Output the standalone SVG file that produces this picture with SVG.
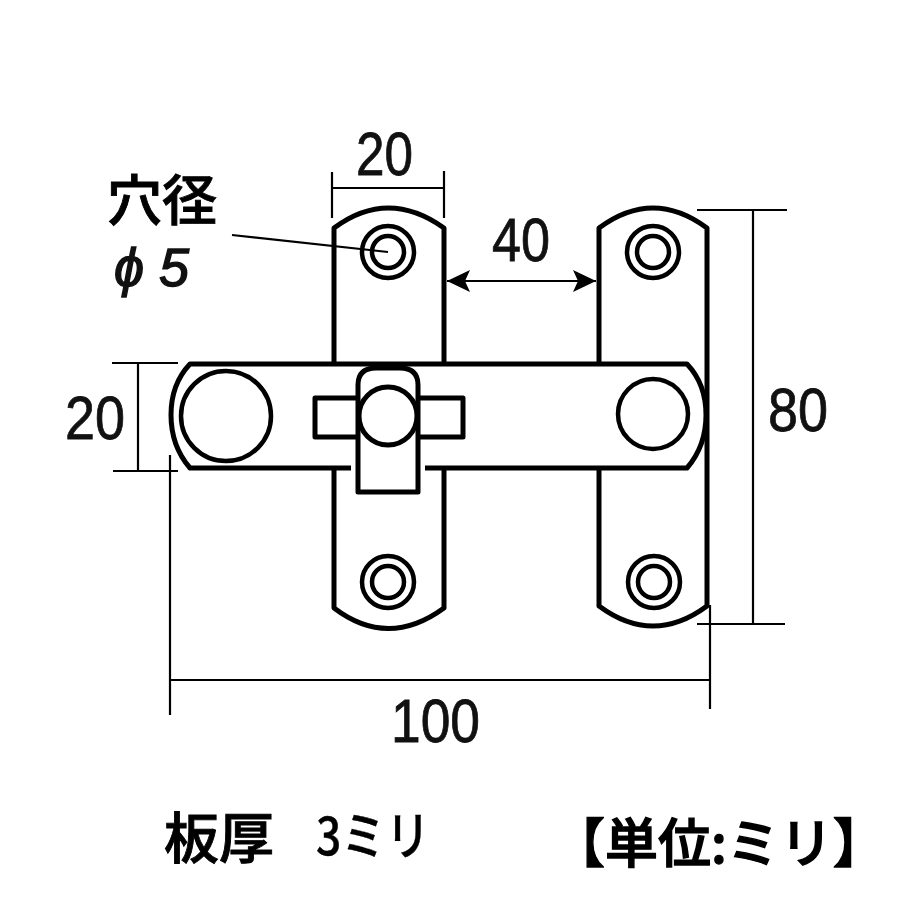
<svg xmlns="http://www.w3.org/2000/svg" width="920" height="920" viewBox="0 0 920 920">
<style>
.o{fill:#fff;stroke:#000;stroke-width:5;stroke-linejoin:round}
.h{fill:none;stroke:#000;stroke-width:4.5}
.d{fill:none;stroke:#000;stroke-width:2.2}
.n{font-family:"Liberation Sans",sans-serif;font-size:62px;fill:#111;stroke:#111;stroke-width:.8}
.j{font-family:"Noto Sans CJK JP","Liberation Sans",sans-serif;fill:#000;font-weight:500;stroke:#000;stroke-width:.9}
</style>
<defs>
<marker id="a" markerUnits="userSpaceOnUse" markerWidth="26" markerHeight="26" refX="23" refY="12" orient="auto-start-reverse"><path d="M23 12L0 1L5 12L0 23Z" fill="#000"/></marker>
</defs>
<rect width="920" height="920" fill="#fff"/>
<g id="plate-left">
<path class="o" d="M334 228Q388 188 444 228V608Q388 649 334 608Z"/>
<circle class="h" cx="388" cy="252" r="26"/><circle class="h" cx="388" cy="252" r="16"/>
<circle class="h" cx="388" cy="582" r="26"/><circle class="h" cx="388" cy="582" r="16"/>
</g>
<g id="plate-right">
<path class="o" d="M599 228Q653 188 707 228V606Q653 646 599 606Z"/>
<circle class="h" cx="653" cy="252" r="26"/><circle class="h" cx="653" cy="252" r="16"/>
<circle class="h" cx="654" cy="582" r="26"/><circle class="h" cx="654" cy="582" r="16"/>
</g>
<g id="bar">
<path class="o" d="M190 364H687Q706 384 706 415Q706 446 687 468H190Q171 446 171 415Q171 384 190 364Z"/>
<circle class="h" cx="226" cy="416" r="45"/>
<circle class="h" cx="653" cy="414" r="35"/>
</g>
<g id="slider">
<rect class="o" x="315" y="398" width="148" height="39"/>
<path fill="#fff" d="M351 465H425V472H351Z"/>
<path class="o" d="M358 492V385Q358 368 376 368H400Q418 368 418 385V492Z"/>
<circle class="o" cx="388" cy="416" r="29"/>
</g>
<g id="connectors">
<path class="d" d="M332 172V218M444 171V218M332 188H444"/>
<path class="d" d="M232 235L388 252"/>
<path class="d" d="M447 281H596" marker-start="url(#a)" marker-end="url(#a)"/>
<path class="d" d="M697 210H787M697 624H785M753 210V624"/>
<path class="d" d="M112 363H178M113 471H178M138 363V471"/>
<path class="d" d="M170 455V715M710 605V709M170 680H710"/>
</g>
<g id="labels">
<text class="n" x="356" y="175" textLength="57" lengthAdjust="spacingAndGlyphs">20</text>
<text class="n" x="492" y="261" textLength="58" lengthAdjust="spacingAndGlyphs">40</text>
<text class="n" x="768" y="431" textLength="60" lengthAdjust="spacingAndGlyphs">80</text>
<text class="n" x="65" y="439" textLength="60" lengthAdjust="spacingAndGlyphs">20</text>
<text class="n" x="391" y="742" textLength="89" lengthAdjust="spacingAndGlyphs">100</text>
<text class="j" x="107" y="220" font-size="55">穴径</text>
<text class="n" x="114" y="286" textLength="75" lengthAdjust="spacing" style="font-style:italic;font-size:54px;stroke-width:1.4">ϕ5</text>
<text class="j" x="164" y="858" font-size="55">板厚</text>
<text class="j" x="316" y="855" font-size="52" textLength="114" lengthAdjust="spacingAndGlyphs" style="stroke-width:.4">3ミリ</text>
<text class="j" x="552" y="863" font-size="53" style="stroke-width:1.4">【単位:ミリ】</text>
</g>
</svg>
